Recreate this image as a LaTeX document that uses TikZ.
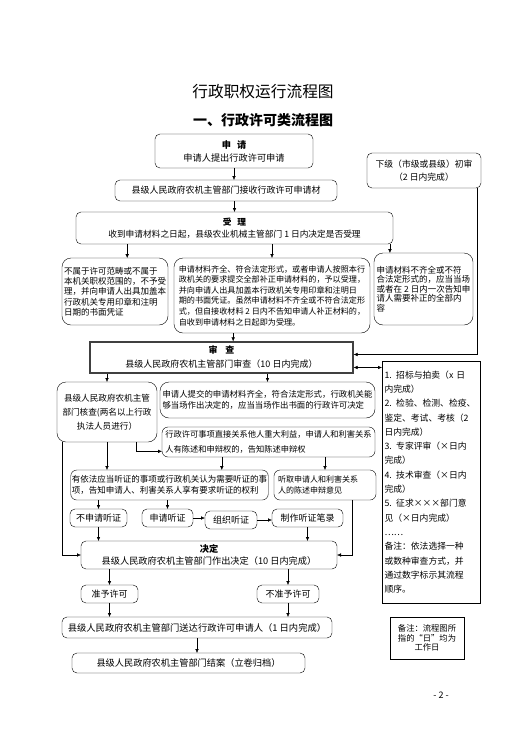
\documentclass[tikz,border=0pt]{standalone}
\usepackage{fontspec}
\setmainfont{Noto Sans CJK SC}
\usetikzlibrary{arrows.meta}

\begin{document}
\begin{tikzpicture}[
	x=1pt, y=-1pt,
	mybox/.style = {
		draw, rectangle, rounded corners=5pt, align=center,
		font=\fontsize{9}{12}\selectfont, inner sep=1pt, outer sep=0pt},
	textbox/.style = {
		mybox, rounded corners=9pt, align=left,
		font=\fontsize{8.3}{10.5}\selectfont},
	sqbox/.style = {
		draw, rectangle, align=left, inner sep=2.5pt, outer sep=0pt,
		font=\fontsize{8.8}{14.3}\selectfont},
	arrow/.style = {thin,-{Latex[length=4pt,width=3.5pt]}},
	dblarrow/.style = {thin,{Latex[length=4pt,width=3.5pt]}-{Latex[length=4pt,width=3.5pt]}}
]
\useasboundingbox (0,0) rectangle (529,747);

\node (title) at (263,92)   {\fontsize{15.7}{18}\selectfont 行政职权运行流程图};
\node (sub)   at (263,120)  {\fontsize{14}{16}\selectfont\bfseries 一、行政许可类流程图};

\node (apply)  [mybox, minimum width=158, minimum height=34,
                font=\fontsize{9.2}{13}\selectfont] at (234,151)
                {{\bfseries 申\hspace{6pt}请}\\申请人提出行政许可申请};
\node (recv)   [mybox, minimum width=222, minimum height=21] at (226,190.5)
                {县级人民政府农机主管部门接收行政许可申请材};
\node (accept) [mybox, minimum width=317, minimum height=32,
                font=\fontsize{8.7}{12}\selectfont] at (234.5,228)
                {{\bfseries 受\hspace{6pt}理}\\
                 收到申请材料之日起，县级农业机械主管部门 1 日内决定是否受理};
\node (lower)  [mybox, minimum width=114, minimum height=35,
                font=\fontsize{8.8}{13}\selectfont] at (424,170.5)
                {下级（市级或县级）初审\\（2 日内完成）};

\node (reject) [textbox, minimum width=106, minimum height=67,
                font=\fontsize{8.5}{10.3}\selectfont] at (115,291.5)
                {不属于许可范畴或不属于\\
                 本机关职权范围的，不予受\\
                 理，并向申请人出具加盖本\\
                 行政机关专用印章和注明\\
                 日期的书面凭证};
\node (ok)     [textbox, minimum width=196, minimum height=75,
                font=\fontsize{8.1}{10.6}\selectfont] at (272,295.5)
                {申请材料齐全、符合法定形式，或者申请人按照本行\\
                 政机关的要求提交全部补正申请材料的，予以受理，\\
                 并向申请人出具加盖本行政机关专用印章和注明日\\
                 期的书面凭证。虽然申请材料不齐全或不符合法定形\\
                 式，但自接收材料 2 日内不告知申请人补正材料的，\\
                 自收到申请材料之日起即为受理。};
\node (supp)   [textbox, minimum width=99, minimum height=72,
                font=\fontsize{8.5}{9.5}\selectfont] at (423.5,289)
                {申请材料不齐全或不符\\
                 合法定形式的，应当当场\\
                 或者在 2 日内一次告知申\\
                 请人需要补正的全部内\\
                 容};

\node (review) [draw, line width=1.2pt, draw=black!75, align=center,
                minimum width=263, minimum height=31, inner sep=1pt,
                font=\fontsize{9}{14}\selectfont] at (221.5,357.5)
                {{\bfseries 审\hspace{8pt}查}\\县级人民政府农机主管部门审查（10 日内完成）};
\node (methods) [sqbox, text width=93, minimum height=242] at (431,482)
                {1. 招标与拍卖（x 日\\
                 内完成）\\
                 \mbox{2. 检验、检测、检疫、}\\
                 鉴定、考试、考核（2\\
                 日内完成）\\
                 3. 专家评审（×日内\\
                 完成）\\
                 4. 技术审查（×日内\\
                 完成）\\
                 5. 征求×××部门意\\
                 见（×日内完成）\\
                 ……\\
                 备注：依法选择一种\\
                 或数种审查方式，并\\
                 通过数字标示其流程\\
                 顺序。};

\node (check)  [textbox, align=center, minimum width=100, minimum height=60,
                font=\fontsize{8.6}{14}\selectfont] at (107,412)
                {县级人民政府农机主管\\部门核查(两名以上行政\\执法人员进行）};
\node (direct) [textbox, minimum width=215, minimum height=36,
                font=\fontsize{8.4}{11.6}\selectfont] at (267.5,400)
                {申请人提交的申请材料齐全，符合法定形式，行政机关能\\
                 够当场作出决定的，应当当场作出书面的行政许可决定};
\node (inform) [textbox, rounded corners=6pt, minimum width=213, minimum height=30,
                font=\fontsize{8.25}{14.3}\selectfont] at (268.5,442)
                {行政许可事项直接关系他人重大利益，申请人和利害关系\\
                 人有陈述和申辩权的，告知陈述申辩权};
\node (hearing) [textbox, rounded corners=6pt, minimum width=195, minimum height=30,
                font=\fontsize{8.5}{10.5}\selectfont] at (169.5,485)
                {有依法应当听证的事项或行政机关认为需要听证的事\\
                 项，告知申请人、利害关系人享有要求听证的权利};
\node (listen) [textbox, rounded corners=6pt, text width=94, inner sep=4pt,
                minimum height=30, font=\fontsize{8}{10.5}\selectfont] at (325,485)
                {听取申请人和利害关系\\人的陈述申辩意见};

\node (nohear) [mybox, minimum width=57, minimum height=18] at (98.5,518)  {不申请听证};
\node (req)    [mybox, minimum width=51, minimum height=18] at (167.5,518) {申请听证};
\node (org)    [mybox, minimum width=52, minimum height=18] at (231,520)   {组织听证};
\node (record) [mybox, minimum width=71, minimum height=18] at (307.5,518) {制作听证笔录};

\node (decide) [mybox, minimum width=256, minimum height=28,
                font=\fontsize{9.2}{12}\selectfont] at (209,555)
                {{\bfseries 决定}\\县级人民政府农机主管部门作出决定（10 日内完成）};
\node (grant)  [mybox, minimum width=57, minimum height=18] at (109.5,594) {准予许可};
\node (deny)   [mybox, minimum width=62, minimum height=18] at (288,594)   {不准予许可};
\node (deliver) [mybox, minimum width=270, minimum height=21,
                font=\fontsize{9.3}{12}\selectfont] at (197,627.5)
                {县级人民政府农机主管部门送达行政许可申请人（1 日内完成）};
\node (close)  [mybox, minimum width=233, minimum height=20,
                font=\fontsize{9.2}{12}\selectfont] at (188.5,663)
                {县级人民政府农机主管部门结案（立卷归档）};

\node (note)   [draw, align=center, minimum width=74, minimum height=42, inner sep=1pt,
                font=\fontsize{8.3}{9.8}\selectfont] at (427,638)
                {备注：流程图所\\指的“日”均为\\工作日};
\node (page)   [font=\fontsize{9}{11}\selectfont] at (441,695) {- 2 -};

% connectors
\draw[arrow] (apply.south) -- (apply.south |- recv.north);
\draw[arrow] (accept.north |- recv.south) -- (accept.north);
\draw[arrow] (accept.south -| reject.70) -- (reject.70);
\draw[arrow] (accept.south -| ok.north) -- (ok.north);
\draw[arrow] (accept.south -| supp.133) -- (supp.133);
\draw[arrow] (ok.224) -- (ok.224 |- review.north);
\draw[arrow] ([xshift=53]lower.south) |- ([yshift=3]review.east);
\coordinate (rv) at ([yshift=-10]review.east);
\draw[dblarrow] (rv) -- (rv -| methods.west);

\draw[arrow] (check.north |- review.south) -- (check.north);
\draw[arrow] (direct.north |- review.south) -- (direct.north);
\draw[arrow] ([xshift=29]check.south) |- (inform.185);
\draw[arrow] (check.south) -- (check.south |- hearing.north);
\draw[arrow] ([xshift=-45]check.south) |- (decide.west);
\draw[arrow] (inform.south -| hearing.16) -- (hearing.16);
\draw[arrow] (inform.south -| listen.north) -- (listen.north);

\draw[arrow] (nohear.north |- hearing.south) -- (nohear.north);
\draw[arrow] (req.north |- hearing.south) -- (req.north);
\draw[arrow] (req.east) -- (req.east -| org.west);
\draw[arrow] (org.east) -- (org.east -| record.west);
\draw[arrow] (nohear.south) -- (nohear.south |- decide.north);
\draw[arrow] (record.south) -- (record.south |- decide.north);
\draw[arrow] ([xshift=27]listen.south) |- (decide.east);

\draw[arrow] (grant.north |- decide.south) -- (grant.north);
\draw[arrow] (deny.north |- decide.south) -- (deny.north);
\draw[arrow] (grant.south) -- (grant.south |- deliver.north);
\draw[arrow] (deny.south) -- (deny.south |- deliver.north);
\draw[arrow] (deliver.south) -- (deliver.south |- close.north);
\end{tikzpicture}
\end{document}
